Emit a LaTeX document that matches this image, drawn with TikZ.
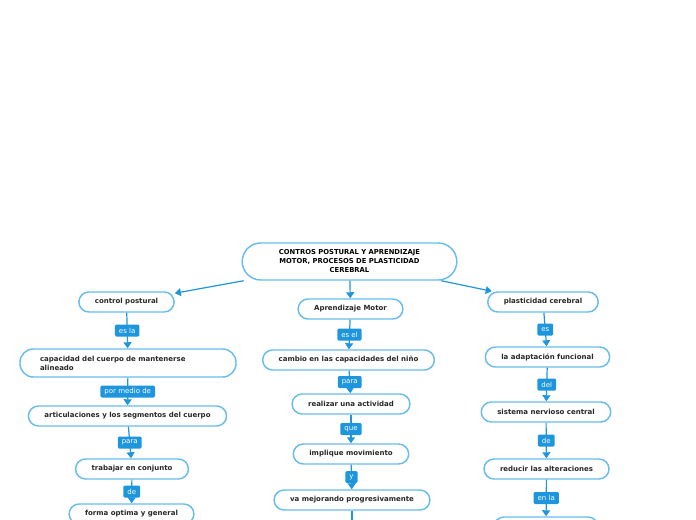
\documentclass[tikz,border=0pt]{standalone}
\usepackage{fontspec}
\setmainfont{DejaVu Sans}
\usetikzlibrary{arrows.meta}
\usetikzlibrary{calc}
\definecolor{mmblue}{RGB}{30,150,222}
\definecolor{mmedge}{RGB}{105,188,236}
\definecolor{mmtext}{RGB}{40,40,40}
\tikzset{
    topic/.style={
        rectangle,               % 圆角矩形
        draw=mmedge,             % 浅蓝边框
        line width=1.1pt,
        fill=white,
        rounded corners=7.5pt,
        minimum height=15pt,
        inner xsep=12pt,
        inner ysep=1pt,
        text=mmtext,
        font=\bfseries\fontsize{5.25}{6.75}\selectfont
    },
    linkbox/.style={
        fill=mmblue,             % 蓝色标签
        text=white,
        rounded corners=1pt,
        inner xsep=3pt,
        inner ysep=0pt,
        minimum height=9pt,
        font=\fontsize{5.25}{6}\selectfont
    },
    link/.style={
        draw=mmblue,
        line width=0.9pt,
        -{Triangle[length=4.5pt,width=6pt]}
    }
}
\begin{document}
\begin{tikzpicture}[x=0.75pt, y=-0.75pt]

\useasboundingbox (0,0) rectangle (696,520);
\clip (0,0) rectangle (696,520);

% 定义点
\coordinate (P0) at (349.5, 261.5);
\coordinate (PA1) at (126.5, 302);
\coordinate (PA2) at (128, 363);
\coordinate (PA3) at (127.5, 416);
\coordinate (PA4) at (132, 469);
\coordinate (PA5) at (131.5, 514);
\coordinate (PB1) at (350.5, 309);
\coordinate (PB2) at (348.5, 360);
\coordinate (PB3) at (351, 404);
\coordinate (PB4) at (351, 454);
\coordinate (PB5) at (352, 500);
\coordinate (PB6) at (352, 540);
\coordinate (PD1) at (543, 302);
\coordinate (PD2) at (547.5, 357);
\coordinate (PD3) at (546, 412);
\coordinate (PD4) at (546.5, 469);
\coordinate (PD5) at (546, 527);

% 中心主题
\node[topic, rounded corners=14pt, minimum width=161pt, minimum height=27.75pt,
      align=center, font=\bfseries\fontsize{5.1}{6.75}\selectfont, text=black] (root) at (P0)
      {CONTROS POSTURAL Y APRENDIZAJE\\MOTOR, PROCESOS DE PLASTICIDAD\\CEREBRAL};

% 左列
\node[topic] (postural) at (PA1) {control postural};
\node[topic, minimum height=21pt, text width=132pt, align=left, inner xsep=15pt,
      rounded corners=10pt] (capacidad) at (PA2)
      {capacidad del cuerpo de mantenerse\\alineado};
\node[topic] (articula) at (PA3) {articulaciones y los segmentos del cuerpo};
\node[topic] (trabajar) at (PA4) {trabajar en conjunto};
\node[topic] (forma) at (PA5) {forma optima y general};

% 中列
\node[topic] (motor) at (PB1) {Aprendizaje Motor};
\node[topic] (cambio) at (PB2) {cambio en las capacidades del niño};
\node[topic] (realizar) at (PB3) {realizar una actividad};
\node[topic] (implique) at (PB4) {implique movimiento};
\node[topic] (mejorando) at (PB5) {va mejorando progresivamente};

% 右列
\node[topic] (plasticidad) at (PD1) {plasticidad cerebral};
\node[topic] (adaptacion) at (PD2) {la adaptación funcional};
\node[topic] (sistema) at (PD3) {sistema nervioso central};
\node[topic] (reducir) at (PD4) {reducir las alteraciones};
\node[topic, minimum width=78pt] (siguiente) at (PD5) {};

% 连线
\draw[link] (root) -- (postural);
\draw[link] (root) -- (motor);
\draw[link] (root) -- (plasticidad);

\draw[link] (postural) -- (capacidad) node[linkbox, midway] {es la};
\draw[link] (capacidad) -- (articula) node[linkbox, midway] {por medio de};
\draw[link] (articula) -- (trabajar) node[linkbox, midway] {para};
\draw[link] (trabajar) -- (forma) node[linkbox, midway] {de};

\draw[link] (motor) -- (cambio) node[linkbox, midway] {es el};
\draw[link] (cambio) -- (realizar) node[linkbox, midway] {para};
\draw[link] (realizar) -- (implique) node[linkbox, midway] {que};
\draw[link] (implique) -- (mejorando) node[linkbox, midway] {y};
\draw[link] (mejorando) -- (PB6);

\draw[link] (plasticidad) -- (adaptacion) node[linkbox, midway] {es};
\draw[link] (adaptacion) -- (sistema) node[linkbox, midway] {del};
\draw[link] (sistema) -- (reducir) node[linkbox, midway] {de};
\draw[link] (reducir) -- (siguiente) node[linkbox, midway] {en la};

\end{tikzpicture}
\end{document}
